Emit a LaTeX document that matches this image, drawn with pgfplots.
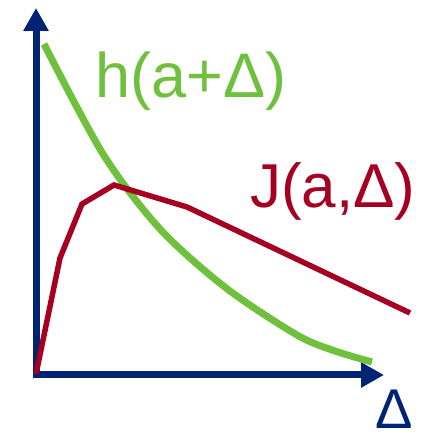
\documentclass[border=0pt]{standalone}
\usepackage{pgfplots}
\pgfplotsset{compat=1.18}
\usetikzlibrary{arrows.meta}
\usepackage{fontspec}
\setmainfont{Liberation Sans}
\definecolor{axisblue}{RGB}{0,36,115}
\definecolor{hgreen}{RGB}{111,192,60}
\definecolor{jred}{RGB}{165,0,33}
\begin{document}
\begin{tikzpicture}
\begin{axis}[
  width=429pt, height=436pt, scale only axis,
  xmin=0, xmax=429, ymin=0, ymax=436,
  axis lines=none, clip=false,
]
\path (axis cs:0,0) rectangle (axis cs:429,436);
% coordinate axes with arrow heads
\addplot[axisblue, line width=7pt, line join=miter,
  {Triangle[width=24pt,length=23pt]}-{Triangle[width=24pt,length=23pt]}]
  coordinates {(36,428) (36,61) (384,61)};
% h(a+Delta)
\addplot[hgreen, line width=7pt, smooth, tension=0.5]
  coordinates {(44,392) (103,282) (160,207) (226,148) (297,101) (335,85) (372,74)};
% J(a,Delta)
\addplot[jred, line width=5.5pt, line join=miter]
  coordinates {(36,62) (60,178) (82,232) (114,251) (187,229) (410,123)};
\node[anchor=base west, inner sep=0pt, text=hgreen, font=\fontsize{63}{63}\selectfont]
  at (axis cs:95,338) {h(a+Δ)};
\node[anchor=base west, inner sep=0pt, text=jred, font=\fontsize{62}{62}\selectfont]
  at (axis cs:250,228) {J(a,Δ)};
\node[anchor=base west, inner sep=0pt, text=axisblue, font=\fontsize{56}{56}\selectfont]
  at (axis cs:375,7) {Δ};
\end{axis}
\end{tikzpicture}
\end{document}
